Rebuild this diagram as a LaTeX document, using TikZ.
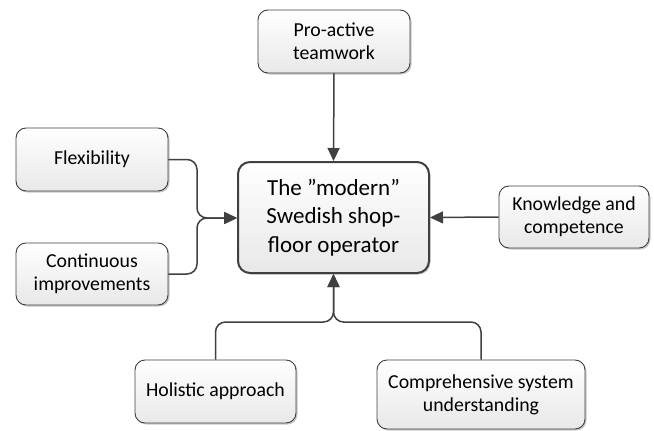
\documentclass[tikz,border=0pt]{standalone}
\usepackage{fontspec}
\setmainfont{Carlito}
\usetikzlibrary{shadows,arrows.meta}
\definecolor{edge}{HTML}{404040}
\tikzset{
  box/.style={draw=edge, line width=0.9pt, rounded corners=10pt, top color=white, bottom color=black!9,
    align=center, inner sep=0pt, font=\fontsize{19.8}{23}\selectfont,
    drop shadow={shadow xshift=1.5pt, shadow yshift=-1.5pt, opacity=0.22, fill=black}},
  mainbox/.style={box, line width=2pt, rounded corners=12pt, font=\fontsize{23}{28.5}\selectfont},
  conn/.style={draw=edge, line width=1.5pt, rounded corners=10pt, -{Triangle[length=13pt,width=12pt]}}
}
\begin{document}
\begin{tikzpicture}[x=1pt,y=-1pt]
\useasboundingbox (0,0) rectangle (654,431);
\node[box, minimum width=152pt, minimum height=63pt] (pro) at (334,41.5) {Pro-active\\teamwork};
\node[box, minimum width=152pt, minimum height=63pt] (flex) at (92,159.5) {Flexibility};
\node[box, minimum width=152pt, minimum height=62pt] (cont) at (92,274) {Continuous\\improvements};
\node[mainbox, minimum width=191pt, minimum height=111pt] (main) at (333.5,217.5) {The ”modern”\\Swedish shop-\\floor operator};
\node[box, minimum width=150pt, minimum height=62pt] (know) at (574,217) {Knowledge and\\competence};
\node[box, minimum width=161pt, minimum height=63pt] (hol) at (215.5,391.5) {Holistic approach};
\node[box, minimum width=208pt, minimum height=69pt] (comp) at (481,394.5) {Comprehensive system\\understanding};
\coordinate (fj) at (197,218);
\coordinate (bj) at (333.5,322);
\draw[conn] (pro.south) -- (main.north);
\draw[conn] (know.west) -- (main.east);
\draw[conn] (flex.east) -- (flex.east -| fj) -- (fj) -- (main.west |- fj);
\draw[conn] (cont.east) -- (cont.east -| fj) -- (fj) -- (main.west |- fj);
\draw[conn] (hol.north) -- (hol.north |- bj) -- (bj) -- (main.south);
\draw[conn] (comp.north) -- (comp.north |- bj) -- (bj) -- (main.south);
\end{tikzpicture}
\end{document}
